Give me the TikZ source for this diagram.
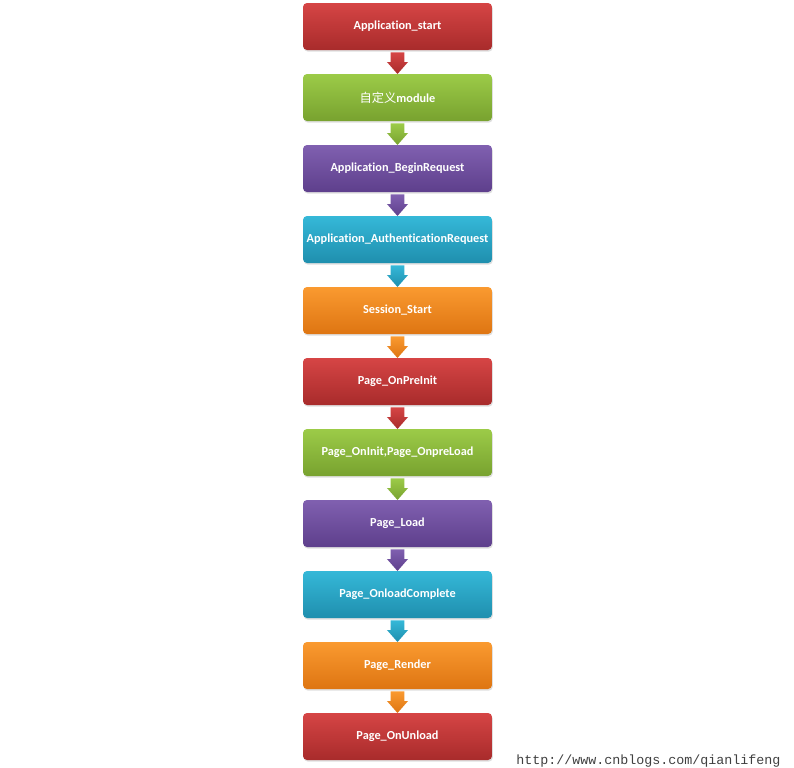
\documentclass[tikz,border=0pt]{standalone}
\usepackage{fontspec}
\setmainfont[Ligatures={NoCommon}]{Carlito}
\newfontfamily\cjk{Noto Sans CJK SC}
\newfontfamily\urlfont{Liberation Mono}
\usetikzlibrary{shadows,calc}
\definecolor{rT}{HTML}{D64545}\definecolor{rB}{HTML}{A82B2B}
\definecolor{gT}{HTML}{9CCB48}\definecolor{gB}{HTML}{78A22F}
\definecolor{pT}{HTML}{8060B0}\definecolor{pB}{HTML}{5E3F8C}
\definecolor{bT}{HTML}{35B8D8}\definecolor{bB}{HTML}{1F8FAE}
\definecolor{oT}{HTML}{FA9A30}\definecolor{oB}{HTML}{DE7512}
\tikzset{
  stepbox/.style={rounded corners=3pt, minimum width=141.75pt, minimum height=35.25pt,
    inner sep=0pt, text=white, font=\fontsize{9.2}{11}\selectfont\bfseries,
    drop shadow={shadow xshift=0.6pt, shadow yshift=-1.2pt, opacity=0.25}},
  fillR/.style={top color=rT, bottom color=rB},
  fillG/.style={top color=gT, bottom color=gB},
  fillP/.style={top color=pT, bottom color=pB},
  fillB/.style={top color=bT, bottom color=bB},
  fillO/.style={top color=oT, bottom color=oB},
}
\newcommand{\flowarrow}[3]{%
  \path[top color=#3T, bottom color=#3B]
    ($(#1.south)+(-5.2pt,-1.5pt)$) -- ($(#1.south)+(5.2pt,-1.5pt)$) --
    ($(#1.south)+(5.2pt,-8.8pt)$) -- ($(#1.south)+(7.9pt,-8.8pt)$) --
    ($(#2.north)+(0pt,-0.2pt)$) --
    ($(#1.south)+(-7.9pt,-8.8pt)$) -- ($(#1.south)+(-5.2pt,-8.8pt)$) -- cycle;}
\begin{document}
\begin{tikzpicture}[x=0.75pt,y=-0.75pt]
\useasboundingbox[fill=white] (0,0) rectangle (794,768);
\node[stepbox,fillR] (n0) at (397.5,26.5) {Application\_start};
\node[stepbox,fillG] (n1) at (397.5,97.5) {{\cjk\mdseries 自定义}module};
\node[stepbox,fillP] (n2) at (397.5,168.5) {Application\_BeginRequest};
\node[stepbox,fillB] (n3) at (397.5,239.5) {Application\_AuthenticationRequest};
\node[stepbox,fillO] (n4) at (397.5,310.5) {Session\_Start};
\node[stepbox,fillR] (n5) at (397.5,381.5) {Page\_OnPreInit};
\node[stepbox,fillG] (n6) at (397.5,452.5) {Page\_OnInit,Page\_OnpreLoad};
\node[stepbox,fillP] (n7) at (397.5,523.5) {Page\_Load};
\node[stepbox,fillB] (n8) at (397.5,594.5) {Page\_OnloadComplete};
\node[stepbox,fillO] (n9) at (397.5,665.5) {Page\_Render};
\node[stepbox,fillR] (n10) at (397.5,736.5) {Page\_OnUnload};
\flowarrow{n0}{n1}{r}
\flowarrow{n1}{n2}{g}
\flowarrow{n2}{n3}{p}
\flowarrow{n3}{n4}{b}
\flowarrow{n4}{n5}{o}
\flowarrow{n5}{n6}{r}
\flowarrow{n6}{n7}{g}
\flowarrow{n7}{n8}{p}
\flowarrow{n8}{n9}{b}
\flowarrow{n9}{n10}{o}
\node[anchor=base west, inner sep=0pt, text=black!75, font=\urlfont\fontsize{10}{12}\selectfont] (url) at (516,764) {http://www.cnblogs.com/qianlifeng};
\end{tikzpicture}
\end{document}
